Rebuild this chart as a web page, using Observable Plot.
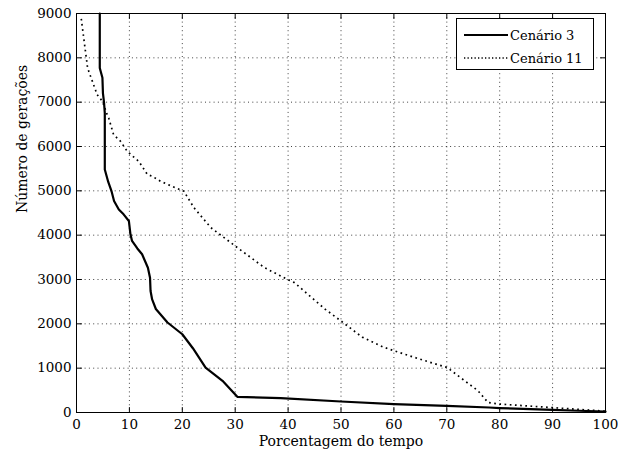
<!DOCTYPE html>
<html><head><meta charset="utf-8">
<script src="https://cdn.jsdelivr.net/npm/d3@7"></script>
<script src="https://cdn.jsdelivr.net/npm/@observablehq/plot@0.6"></script>
<style>
body{margin:0;background:#fff;}
#wrap{position:relative;width:618px;height:455px;font-family:"DejaVu Serif",serif;}
#legend{position:absolute;left:456px;top:18px;width:138px;height:52px;border:1px solid #000;background:#fff;box-sizing:border-box;}
#legend svg{display:block;}
</style></head><body><div id="wrap"><div id="legend"></div></div>
<script>
// ---- data ----
const seriesNames = ["Cenário 3", "Cenário 11"];
const xLabel = "Porcentagem do tempo";
const yLabel = "Número de gerações";
const xTicks = [0, 10, 20, 30, 40, 50, 60, 70, 80, 90, 100];
const yTicks = [0, 1000, 2000, 3000, 4000, 5000, 6000, 7000, 8000, 9000];

const cen3X = [4.4, 4.4, 4.9, 5.0, 5.2, 5.35, 5.35, 6.0, 6.6, 7.1, 8.0, 8.9, 9.9, 10.2, 10.5, 11.5, 12.4, 13.5, 13.9, 14.0, 14.3, 15.0, 17.2, 20.0, 22.0, 24.4, 27.6, 30.4, 38.6, 50, 60, 70, 78, 80, 90, 95, 100];
const cen3Y = [9000, 7770, 7550, 7200, 7000, 6750, 5480, 5200, 5000, 4770, 4580, 4470, 4320, 4020, 3870, 3700, 3570, 3265, 3040, 2740, 2550, 2335, 2030, 1765, 1450, 1013, 714, 354, 324, 248, 190, 150, 113, 100, 60, 40, 20];

const cen11X = [0.9, 1.7, 2.1, 3.0, 3.9, 4.9, 5.8, 6.1, 7.0, 8.3, 9.6, 11.8, 13.4, 14.3, 15.9, 18.1, 20.3, 22.2, 25.4, 30.4, 35.5, 39.9, 41.2, 43.7, 47, 50, 54, 57.9, 60.1, 65, 70.1, 73, 75.9, 77.8, 80, 85, 90, 95, 100];
const cen11Y = [8880, 8140, 7770, 7470, 7170, 7020, 6720, 6640, 6270, 6120, 5890, 5660, 5370, 5330, 5215, 5100, 4990, 4620, 4170, 3720, 3270, 3000, 2930, 2670, 2330, 2065, 1700, 1480, 1390, 1200, 1013, 750, 490, 225, 190, 150, 110, 70, 30];

const cen3 = cen3X.map((x, i) => ({x, y: cen3Y[i]}));
const cen11 = cen11X.map((x, i) => ({x, y: cen11Y[i]}));

const tickShape = {draw(ctx, l) { ctx.moveTo(0, 0); ctx.lineTo(0, -l); }};
const tk = {anchor: "start", length: 5, shape: tickShape, stroke: "#000", strokeWidth: 1};

const chart = Plot.plot({
  width: 618, height: 455,
  marginLeft: 76, marginRight: 13, marginTop: 13, marginBottom: 43,
  style: {fontFamily: "DejaVu Serif", fontSize: "13.5px", color: "#000", background: "#fff"},
  x: {domain: [0, 100]},
  y: {domain: [0, 9000]},
  marks: [
    Plot.gridX(xTicks, {stroke: "#000", strokeOpacity: 0.75, strokeDasharray: "1,3.3"}),
    Plot.gridY(yTicks, {stroke: "#000", strokeOpacity: 0.75, strokeDasharray: "1,3.3"}),
    Plot.line(cen11, {x: "x", y: "y", stroke: "#000", strokeWidth: 1.7, strokeDasharray: "1.7,3.5", strokeLinecap: "butt"}),
    Plot.line(cen3, {x: "x", y: "y", stroke: "#000", strokeWidth: 2.2}),
    Plot.vector(xTicks, {...tk, x: d => d, frameAnchor: "bottom", rotate: 0}),
    Plot.vector(xTicks, {...tk, x: d => d, frameAnchor: "top", rotate: 180}),
    Plot.vector(yTicks, {...tk, y: d => d, frameAnchor: "left", rotate: 90}),
    Plot.vector(yTicks, {...tk, y: d => d, frameAnchor: "right", rotate: 270}),
    Plot.axisX(xTicks, {tickSize: 0, tickPadding: 7, label: null, fontSize: 13.5, tickFormat: "d"}),
    Plot.axisY(yTicks, {tickSize: 0, tickPadding: 5, label: null, fontSize: 13.5, tickFormat: "d"}),
    Plot.text([xLabel], {text: d => d, frameAnchor: "bottom", dy: 33, fontSize: 14}),
    Plot.text([yLabel], {text: d => d, frameAnchor: "left", dx: -54, rotate: -90, fontSize: 14}),
    Plot.frame({stroke: "#000", strokeWidth: 1})
  ]
});
document.getElementById("wrap").prepend(chart);

// legend
const leg = d3.select("#legend").append("svg").attr("width", 136).attr("height", 50);
const dashes = [null, "1.3,2.2"];
seriesNames.forEach((name, i) => {
  const cy = 16 + i * 23;
  leg.append("line").attr("x1", 7).attr("x2", 51).attr("y1", cy).attr("y2", cy)
    .attr("stroke", "#000").attr("stroke-width", i === 0 ? 2 : 1.5)
    .attr("stroke-dasharray", dashes[i]);
  leg.append("text").attr("x", 53).attr("y", cy).attr("dy", "0.35em")
    .attr("font-family", "DejaVu Serif").attr("font-size", 13).text(name);
});
</script>
</body></html>
